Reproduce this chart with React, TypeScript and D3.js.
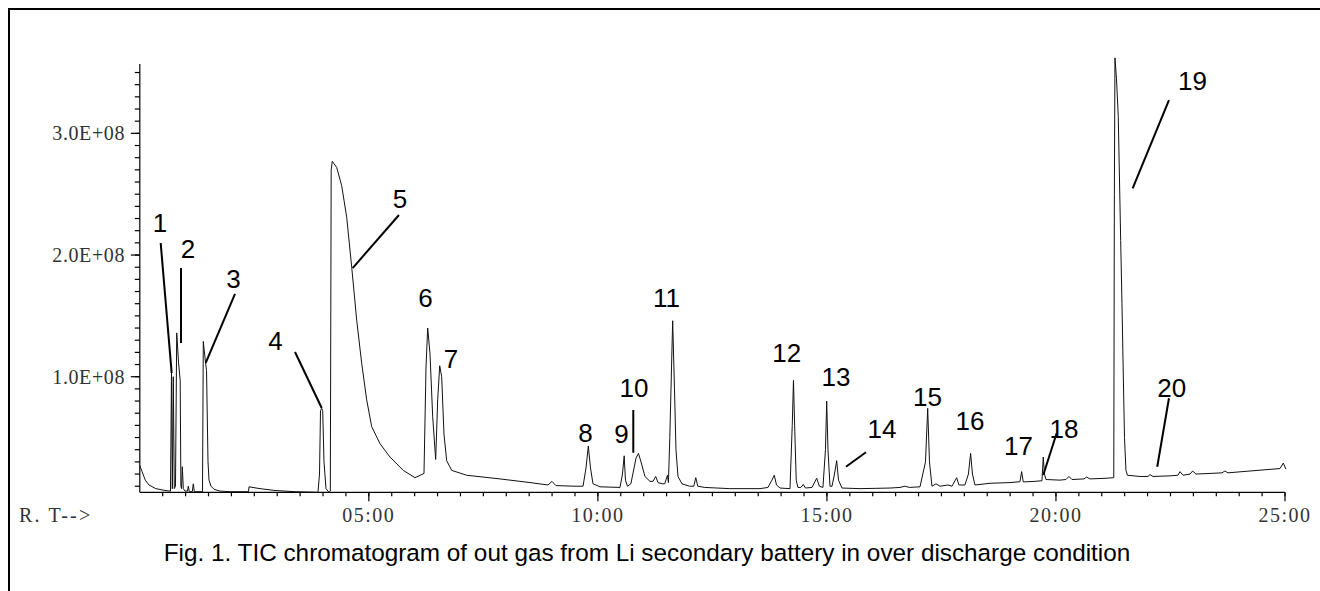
import React, { useEffect, useRef } from "react";
import * as d3 from "d3";

// retention time (min) and abundance (x1e8)
const times = [
  0.0, 0.05, 0.12, 0.2, 0.35, 0.55, 0.67, 0.692, 0.71, 0.731, 0.753, 0.779, 0.806, 0.845, 0.882, 0.897,
  0.912, 0.928, 0.95, 0.987, 1.041, 1.059, 1.081, 1.146, 1.168, 1.19, 1.369, 1.386, 1.434, 1.457, 1.489,
  1.511, 1.554, 1.62, 1.75, 1.97, 2.373, 2.384, 2.624, 2.951, 3.388, 3.89, 3.923, 3.945, 3.971, 3.993,
  4.021, 4.065, 4.13, 4.159, 4.178, 4.202, 4.24, 4.298, 4.407, 4.517, 4.626, 4.735, 4.844, 4.953, 5.062,
  5.243, 5.461, 5.752, 6.007, 6.204, 6.248, 6.285, 6.335, 6.394, 6.459, 6.503, 6.547, 6.59, 6.64, 6.699,
  6.809, 7.136, 7.863, 8.518, 8.911, 8.998, 9.085, 9.5, 9.676, 9.741, 9.791, 9.839, 9.893, 10.046, 10.483,
  10.537, 10.574, 10.602, 10.646, 10.72, 10.79, 10.832, 10.886, 10.941, 11.028, 11.137, 11.203, 11.262,
  11.312, 11.4, 11.46, 11.519, 11.54, 11.57, 11.633, 11.672, 11.705, 11.749, 11.836, 12.0, 12.094, 12.137,
  12.181, 12.334, 12.88, 13.539, 13.713, 13.8, 13.85, 13.9, 13.976, 14.194, 14.243, 14.27, 14.299, 14.33,
  14.366, 14.432, 14.483, 14.532, 14.674, 14.776, 14.836, 14.913, 14.968, 14.995, 15.023, 15.067, 15.111,
  15.165, 15.213, 15.253, 15.329, 15.722, 16.377, 16.595, 16.703, 16.8, 17.032, 17.152, 17.2, 17.239,
  17.293, 17.381, 17.468, 17.643, 17.73, 17.832, 17.882, 18.013, 18.089, 18.137, 18.177, 18.232, 18.559,
  18.996, 19.214, 19.251, 19.286, 19.542, 19.694, 19.723, 19.749, 19.782, 20.087, 20.218, 20.283, 20.349,
  20.611, 20.67, 20.742, 21.07, 21.262, 21.275, 21.288, 21.321, 21.36, 21.413, 21.441, 21.469, 21.496,
  21.528, 21.561, 21.834, 22.008, 22.052, 22.118, 22.489, 22.663, 22.707, 22.773, 22.925, 22.984, 23.056,
  23.362, 23.624, 23.689, 23.755, 24.235, 24.563, 24.89, 24.962, 25.02,
];
const abundance = [
  0.27, 0.22, 0.15, 0.11, 0.08, 0.065, 0.06, 1.03, 0.08, 1.0, 0.08, 0.1, 1.36, 1.12, 0.97, 0.1,
  0.08, 0.26, 0.08, 0.06, 0.06, 0.1, 0.055, 0.055, 0.12, 0.055, 0.055, 1.29, 1.12, 1.05, 0.3,
  0.15, 0.1, 0.075, 0.06, 0.055, 0.055, 0.095, 0.08, 0.065, 0.055, 0.05, 0.2, 0.72, 0.74, 0.72,
  0.3, 0.08, 0.05, 0.06, 2.7, 2.77, 2.75, 2.72, 2.57, 2.31, 1.9, 1.465, 1.11, 0.81, 0.59,
  0.45, 0.34, 0.23, 0.17, 0.205, 1.08, 1.4, 1.19, 0.67, 0.32, 0.81, 1.09, 1.0, 0.53, 0.31,
  0.23, 0.19, 0.16, 0.13, 0.11, 0.14, 0.105, 0.1, 0.1, 0.25, 0.43, 0.25, 0.12, 0.095, 0.09,
  0.2, 0.35, 0.15, 0.1, 0.12, 0.25, 0.33, 0.37, 0.3, 0.18, 0.14, 0.14, 0.18,
  0.13, 0.12, 0.12, 0.19, 0.13, 0.5, 1.46, 0.9, 0.4, 0.18, 0.12, 0.1, 0.1, 0.17,
  0.1, 0.09, 0.08, 0.08, 0.09, 0.15, 0.19, 0.11, 0.085, 0.08, 0.6, 0.97, 0.55, 0.15,
  0.09, 0.09, 0.115, 0.085, 0.09, 0.165, 0.1, 0.09, 0.4, 0.8, 0.4, 0.1, 0.1,
  0.2, 0.31, 0.15, 0.085, 0.08, 0.085, 0.09, 0.1, 0.09, 0.095, 0.3, 0.74, 0.3,
  0.1, 0.12, 0.1, 0.11, 0.1, 0.17, 0.11, 0.11, 0.2, 0.37, 0.2, 0.11, 0.124,
  0.13, 0.137, 0.22, 0.135, 0.14, 0.145, 0.34, 0.2, 0.155, 0.15, 0.155, 0.18, 0.155,
  0.16, 0.175, 0.16, 0.165, 0.17, 2.5, 3.62, 3.45, 3.14, 2.12, 1.6, 1.03, 0.5,
  0.23, 0.19, 0.18, 0.18, 0.195, 0.18, 0.185, 0.19, 0.22, 0.19, 0.2, 0.225, 0.2,
  0.205, 0.21, 0.225, 0.21, 0.225, 0.235, 0.245, 0.29, 0.24,
];

// peak numbers: label anchor (time, abundance)
const peakIds = ["1", "2", "3", "4", "5", "6", "7", "8", "9", "10", "11", "12", "13", "14", "15", "16", "17", "18", "19", "20"];
const peakLabelT = [0.441, 1.052, 2.045, 2.962, 5.68, 6.237, 6.793, 9.729, 10.515, 10.788, 11.497, 14.121, 15.198, 16.202, 17.195, 18.123, 19.181, 20.175, 22.98, 22.526];
const peakLabelV = [2.189, 1.976, 1.729, 1.219, 2.386, 1.573, 1.072, 0.463, 0.455, 0.833, 1.573, 1.123, 0.924, 0.496, 0.759, 0.562, 0.357, 0.496, 3.356, 0.836];

// leader lines [t1, v1, t2, v2]
const leaders = [
  [0.456, 2.099, 0.696, 1.03],
  [0.899, 1.893, 0.899, 1.277],
  [2.078, 1.68, 1.439, 1.113],
  [3.388, 1.203, 3.971, 0.743],
  [5.658, 2.329, 4.647, 1.893],
  [10.773, 0.726, 10.773, 0.375],
  [15.852, 0.379, 15.416, 0.26],
  [20.015, 0.535, 19.723, 0.192],
  [22.467, 3.274, 21.674, 2.548],
  [22.467, 0.823, 22.211, 0.26],
];

const yMajor = [1, 2, 3];
const yLabels = ["1.0E+08", "2.0E+08", "3.0E+08"];
const xMajor = [5, 10, 15, 20, 25];
const xLabels = ["05:00", "10:00", "15:00", "20:00", "25:00"];
const caption = "Fig. 1. TIC chromatogram of out gas from Li secondary battery in over discharge condition";

const W = 1320;
const H = 591;

export default function App() {
  const ref = useRef<SVGSVGElement | null>(null);

  useEffect(() => {
    const svg = d3.select(ref.current);
    svg.selectAll("*").remove();

    const x = d3.scaleLinear().domain([0, 25]).range([139.8, 1285]);
    const y = d3.scaleLinear().domain([0.05, 3.57]).range([492.3, 64]);

    // frame
    svg
      .append("rect")
      .attr("x", 9)
      .attr("y", 9)
      .attr("width", 1400)
      .attr("height", 700)
      .attr("fill", "none")
      .attr("stroke", "#000")
      .attr("stroke-width", 2);

    const serif = "'Liberation Serif', 'DejaVu Serif', serif";

    // y axis
    const yMinor = d3.range(1, 36).map((d) => d / 10);
    const gy = svg.append("g").attr("stroke", "#000").attr("stroke-width", 1.2);
    gy.append("line").attr("x1", x(0)).attr("x2", x(0)).attr("y1", y(3.57)).attr("y2", y(0.05));
    gy.selectAll("line.minor")
      .data(yMinor)
      .join("line")
      .attr("class", "minor")
      .attr("x1", x(0) - 5)
      .attr("x2", x(0))
      .attr("y1", (d) => y(d))
      .attr("y2", (d) => y(d));
    gy.selectAll("line.major")
      .data(yMajor)
      .join("line")
      .attr("class", "major")
      .attr("x1", x(0) - 9)
      .attr("x2", x(0))
      .attr("y1", (d) => y(d))
      .attr("y2", (d) => y(d));
    svg
      .selectAll("text.ylab")
      .data(yMajor)
      .join("text")
      .attr("class", "ylab")
      .attr("x", 125)
      .attr("y", (d) => y(d) + 7)
      .attr("text-anchor", "end")
      .attr("font-family", serif)
      .attr("font-size", 20)
      .attr("letter-spacing", 0.6)
      .attr("fill", "#333")
      .text((d, i) => yLabels[i]);

    // x axis
    const xMinor = d3.range(1, 51).map((d) => d / 2);
    const gx = svg.append("g").attr("stroke", "#000").attr("stroke-width", 1.2);
    gx.append("line").attr("x1", x(0)).attr("x2", x(25)).attr("y1", y(0.05)).attr("y2", y(0.05));
    gx.selectAll("line.minor")
      .data(xMinor)
      .join("line")
      .attr("class", "minor")
      .attr("x1", (d) => x(d))
      .attr("x2", (d) => x(d))
      .attr("y1", y(0.05))
      .attr("y2", y(0.05) + 4);
    gx.selectAll("line.major")
      .data(xMajor)
      .join("line")
      .attr("class", "major")
      .attr("x1", (d) => x(d))
      .attr("x2", (d) => x(d))
      .attr("y1", y(0.05))
      .attr("y2", y(0.05) + 9);
    svg
      .selectAll("text.xlab")
      .data(xMajor)
      .join("text")
      .attr("class", "xlab")
      .attr("x", (d) => x(d))
      .attr("y", 522)
      .attr("text-anchor", "middle")
      .attr("font-family", serif)
      .attr("font-size", 20)
      .attr("letter-spacing", 1.5)
      .attr("fill", "#333")
      .text((d, i) => xLabels[i]);

    svg
      .append("text")
      .attr("x", 19)
      .attr("y", 522)
      .attr("font-family", serif)
      .attr("font-size", 20)
      .attr("letter-spacing", 2.2)
      .attr("fill", "#333")
      .text("R. T-->");

    // trace
    const pts = times.map((t, i) => [t, abundance[i]] as [number, number]);
    const line = d3
      .line<[number, number]>()
      .x((d) => x(d[0]))
      .y((d) => y(d[1]));
    svg
      .append("path")
      .attr("d", line(pts))
      .attr("fill", "none")
      .attr("stroke", "#111")
      .attr("stroke-width", 1)
      .attr("stroke-linejoin", "round");

    // leaders
    svg
      .selectAll("line.leader")
      .data(leaders)
      .join("line")
      .attr("class", "leader")
      .attr("x1", (d) => x(d[0]))
      .attr("y1", (d) => y(d[1]))
      .attr("x2", (d) => x(d[2]))
      .attr("y2", (d) => y(d[3]))
      .attr("stroke", "#000")
      .attr("stroke-width", 2);

    // peak numbers
    svg
      .selectAll("text.peak")
      .data(peakIds)
      .join("text")
      .attr("class", "peak")
      .attr("x", (d, i) => x(peakLabelT[i]))
      .attr("y", (d, i) => y(peakLabelV[i]))
      .attr("text-anchor", "middle")
      .attr("font-family", "'Liberation Sans', Arial, sans-serif")
      .attr("font-size", 26)
      .attr("fill", "#000")
      .text((d) => d);

    svg
      .append("text")
      .attr("x", 647)
      .attr("y", 561)
      .attr("text-anchor", "middle")
      .attr("font-family", "'Liberation Sans', Arial, sans-serif")
      .attr("font-size", 24.3)
      .attr("fill", "#000")
      .text(caption);
  }, []);

  return (
    <svg
      ref={ref}
      width={W}
      height={H}
      style={{ position: "absolute", left: 0, top: 0, background: "#fff" }}
    />
  );
}
